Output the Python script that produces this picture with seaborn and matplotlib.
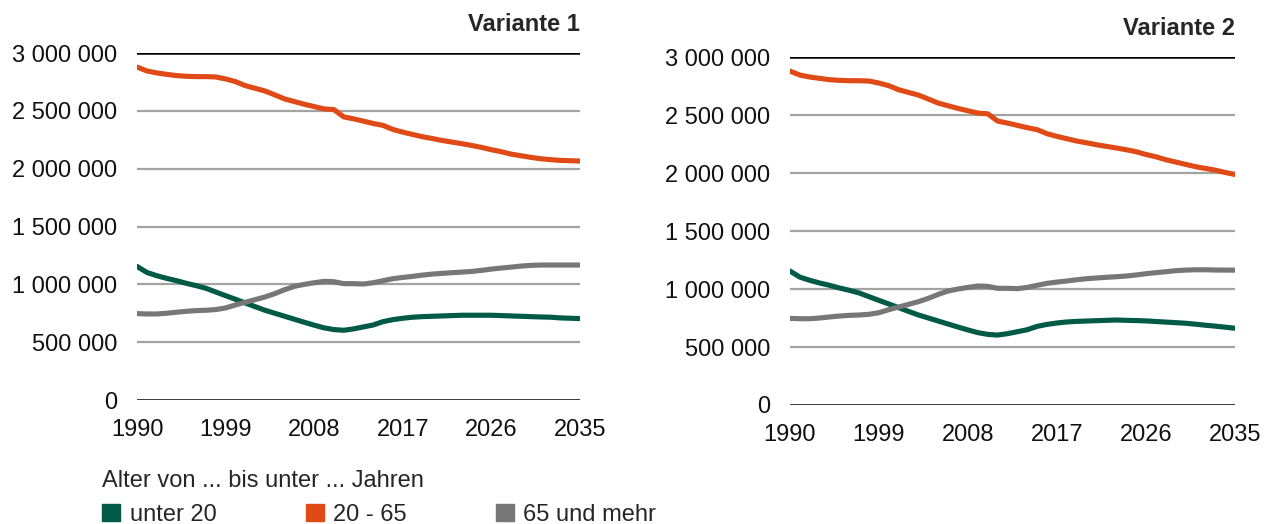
import matplotlib
matplotlib.use("Agg")
import matplotlib.pyplot as plt
import matplotlib.patches as mpatches
import matplotlib.ticker as mticker
import seaborn as sns
import pandas as pd
import numpy as np

# ── data ─────────────────────────────────────────────────────────────────────
years = list(range(1990, 2036))

# Variante 1
v1_unter20 = [1.155, 1.103, 1.075, 1.052, 1.032, 1.009, 0.989, 0.966, 0.934, 0.902,
              0.871, 0.839, 0.807, 0.776, 0.750, 0.724, 0.698, 0.672, 0.647, 0.624,
              0.609, 0.603, 0.615, 0.632, 0.649, 0.678, 0.695, 0.707, 0.716, 0.721,
              0.724, 0.727, 0.730, 0.733, 0.733, 0.733, 0.733, 0.730, 0.727, 0.724,
              0.721, 0.718, 0.716, 0.710, 0.707, 0.704]
v1_20_65 = [2.879, 2.845, 2.828, 2.816, 2.805, 2.799, 2.796, 2.796, 2.793, 2.776,
            2.753, 2.718, 2.695, 2.672, 2.638, 2.603, 2.580, 2.557, 2.537, 2.517,
            2.511, 2.448, 2.431, 2.411, 2.391, 2.374, 2.339, 2.316, 2.296, 2.276,
            2.261, 2.244, 2.230, 2.216, 2.201, 2.184, 2.164, 2.147, 2.126, 2.112,
            2.098, 2.086, 2.078, 2.072, 2.069, 2.066]
v1_65plus = [0.747, 0.744, 0.744, 0.750, 0.759, 0.767, 0.773, 0.776, 0.782, 0.796,
             0.822, 0.845, 0.868, 0.891, 0.920, 0.954, 0.983, 1.000, 1.014, 1.026,
             1.023, 1.006, 1.006, 1.003, 1.014, 1.032, 1.049, 1.060, 1.069, 1.080,
             1.089, 1.095, 1.101, 1.106, 1.112, 1.121, 1.132, 1.141, 1.149, 1.158,
             1.164, 1.167, 1.167, 1.167, 1.167, 1.167]

# Variante 2 (identical to Variante 1 until the mid 2020s)
v2_unter20 = v1_unter20[:34] + [0.730, 0.728, 0.725, 0.720, 0.715, 0.710,
                                0.705, 0.697, 0.688, 0.680, 0.671, 0.662]
v2_20_65 = v1_20_65[:36] + [2.160, 2.140, 2.115, 2.095, 2.075, 2.055,
                            2.040, 2.025, 2.005, 1.988]
v2_65plus = v1_65plus[:40] + [1.163, 1.166, 1.166, 1.164, 1.163, 1.163]

groups = ["unter 20", "20 - 65", "65 und mehr"]
colors = ["#005A46", "#E04A16", "#777777"]
xticks = [1990, 1999, 2008, 2017, 2026, 2035]
yticks = [0, 500000, 1000000, 1500000, 2000000, 2500000, 3000000]

FS = 17


def make_df(series):
    frames = []
    for g, vals in zip(groups, series):
        frames.append(pd.DataFrame({"Jahr": years,
                                    "Wert": np.array(vals) * 1e6,
                                    "Gruppe": g}))
    return pd.concat(frames, ignore_index=True)


def style_ax(ax, title):
    ax.set_xlim(1990, 2035)
    ax.set_ylim(0, 3000000)
    ax.set_xticks(xticks)
    ax.set_yticks(yticks)
    ax.yaxis.set_major_formatter(
        mticker.FuncFormatter(lambda v, p: f"{int(v):,}".replace(",", " ")))
    ax.tick_params(axis="both", length=0, labelsize=FS, colors="#111111")
    ax.tick_params(axis="y", pad=14)
    ax.tick_params(axis="x", pad=14)
    for s in ax.spines.values():
        s.set_visible(False)
    ax.grid(False)
    for yv in yticks[1:-1]:
        ax.axhline(yv, color="#A3A3A3", linewidth=1.6, zorder=0)
    ax.axhline(0, color="black", linewidth=1.8, zorder=1)
    ax.axhline(3000000, color="black", linewidth=1.8, zorder=1)
    ax.set_xlabel("")
    ax.set_ylabel("")
    ax.set_title(title, loc="right", fontsize=FS, fontweight="bold", pad=16)


sns.set_style("white")
plt.rcParams["font.family"] = ["Liberation Sans", "DejaVu Sans"]

fig = plt.figure(figsize=(12.7, 5.24), dpi=100)
fig.patch.set_facecolor("white")

ax1 = fig.add_axes([0.1079, 0.2366, 0.3488, 0.6622])
ax2 = fig.add_axes([0.622, 0.2271, 0.3504, 0.664])

for ax, series, title in [(ax1, [v1_unter20, v1_20_65, v1_65plus], "Variante 1"),
                          (ax2, [v2_unter20, v2_20_65, v2_65plus], "Variante 2")]:
    sns.lineplot(data=make_df(series), x="Jahr", y="Wert", hue="Gruppe",
                 hue_order=groups, palette=colors, linewidth=3.7,
                 legend=False, ax=ax, zorder=3)
    style_ax(ax, title)

handles = [mpatches.Patch(color=c) for c in colors]
leg = fig.legend(handles, groups, title="Alter von ... bis unter ... Jahren",
                 loc="lower left", bbox_to_anchor=(0.0695, -0.03), ncol=3,
                 frameon=False, fontsize=FS, title_fontsize=FS,
                 handlelength=0.76, handleheight=0.76, handletextpad=0.42,
                 columnspacing=3.75, alignment="left", borderaxespad=0.2)

fig.savefig("out.png", dpi=100, facecolor="white")
